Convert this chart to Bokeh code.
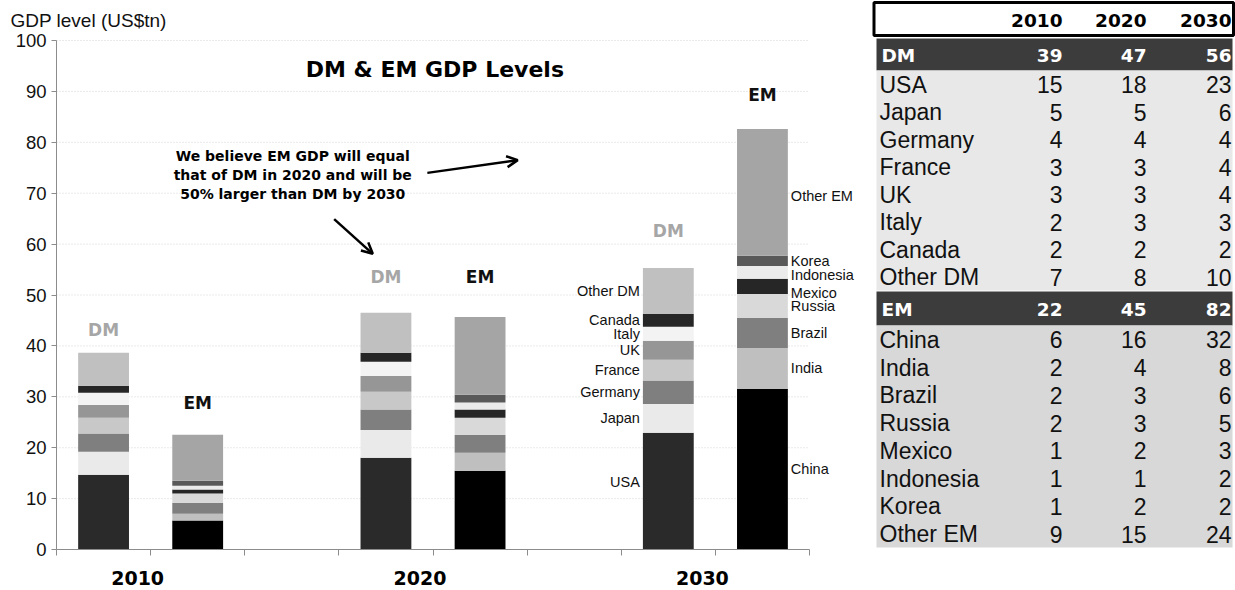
from bokeh.plotting import figure
from bokeh.models import Range1d, FixedTicker, Label, ColumnDataSource, Arrow, OpenHead
from bokeh.layouts import row
from bokeh.embed import file_html
from bokeh.resources import INLINE
from bokeh.core.properties import value

# ---------------- data ----------------
years = ["2010", "2020", "2030"]

dm_countries = ["USA", "Japan", "Germany", "France", "UK", "Italy", "Canada", "Other DM"]
em_countries = ["China", "India", "Brazil", "Russia", "Mexico", "Indonesia", "Korea", "Other EM"]

# bar segment sizes (US$tn), 2010 / 2020 / 2030
dm_usa = [14.7, 18.05, 22.95]
dm_japan = [4.5, 5.45, 5.65]
dm_germany = [3.6, 4.0, 4.6]
dm_france = [3.1, 3.5, 4.1]
dm_uk = [2.5, 3.1, 3.7]
dm_italy = [2.4, 2.8, 2.75]
dm_canada = [1.4, 1.75, 2.55]
dm_other = [6.45, 7.85, 9.0]

em_china = [5.7, 15.5, 31.6]
em_india = [1.35, 3.5, 8.0]
em_brazil = [2.15, 3.5, 5.9]
em_russia = [1.8, 3.4, 4.7]
em_mexico = [0.8, 1.6, 3.0]
em_indonesia = [0.75, 1.4, 2.5]
em_korea = [0.95, 1.5, 2.0]
em_other = [9.05, 15.3, 24.9]

# table values (rounded, as printed)
table_dm_total = [39, 47, 56]
table_dm_values = [[15, 18, 23], [5, 5, 6], [4, 4, 4], [3, 3, 4],
                   [3, 3, 4], [2, 3, 3], [2, 2, 2], [7, 8, 10]]
table_em_total = [22, 45, 82]
table_em_values = [[6, 16, 32], [2, 4, 8], [2, 3, 6], [2, 3, 5],
                   [1, 2, 3], [1, 1, 2], [1, 2, 2], [9, 15, 24]]

y_ticks = list(range(0, 101, 10))

# ---------------- styles ----------------
dm_colors = ["#2a2a2a", "#eaeaea", "#7f7f7f", "#c8c8c8", "#969696", "#f3f3f3", "#262626", "#c0c0c0"]
em_colors = ["#000000", "#bfbfbf", "#7f7f7f", "#d9d9d9", "#262626", "#ebebeb", "#595959", "#a5a5a5"]
SANS = "Liberation Sans"
HEAVY = "DejaVu Sans"

CHART_W, CHART_H = 862, 590
TABLE_W = 373
BAR_W = 0.54
N_SLOTS = 8

dm_vals = [dm_usa, dm_japan, dm_germany, dm_france, dm_uk, dm_italy, dm_canada, dm_other]
em_vals = [em_china, em_india, em_brazil, em_russia, em_mexico, em_indonesia, em_korea, em_other]

# slot layout: DM, EM, gap per decade
x_dm = [3 * i + 0.5 for i in range(len(years))]
x_em = [3 * i + 1.5 for i in range(len(years))]
year_x = [3 * i + 1 for i in range(len(years))]

# the frame fills the whole canvas; axes are pinned at x=0 / y=0 inside it
p = figure(width=CHART_W, height=CHART_H, x_range=Range1d(-0.595, 8.563), y_range=Range1d(-8.04, 107.86),
           output_backend="svg", toolbar_location=None,
           min_border_left=0, min_border_right=0, min_border_top=0, min_border_bottom=0)
p.outline_line_color = None
p.background_fill_color = "white"

# axes
p.xaxis.fixed_location = 0
p.xaxis.ticker = FixedTicker(ticks=list(range(N_SLOTS + 1)))
p.xaxis.major_label_overrides = {i: "" for i in range(N_SLOTS + 1)}
p.xaxis.major_label_text_font_size = "1px"
p.xaxis.axis_line_color = "#8c8c8c"
p.xaxis.major_tick_line_color = "#8c8c8c"
p.xaxis.major_tick_out = 6
p.xaxis.major_tick_in = 0
p.xaxis.minor_tick_line_color = None
p.xaxis.bounds = (0, N_SLOTS)

p.yaxis.fixed_location = 0
p.yaxis.ticker = FixedTicker(ticks=y_ticks)
p.yaxis.bounds = (0, 100)
p.yaxis.axis_line_color = "#8c8c8c"
p.yaxis.major_tick_line_color = "#8c8c8c"
p.yaxis.major_tick_out = 5
p.yaxis.major_tick_in = 0
p.yaxis.minor_tick_line_color = None
p.yaxis.major_label_text_font = SANS
p.yaxis.major_label_text_font_size = "18.5px"
p.yaxis.major_label_text_color = "#111111"
p.yaxis.major_label_standoff = 5

p.xgrid.visible = False
p.ygrid.visible = False
grid_ticks = y_ticks[1:]
p.segment(x0=[0] * len(grid_ticks), x1=[N_SLOTS] * len(grid_ticks), y0=grid_ticks, y1=grid_ticks,
          line_color="#d4d4d4", line_dash="1 2", line_width=1)

# axis title (top-left)
p.add_layout(Label(x=-0.489, y=103.9, text="GDP level (US$tn)", text_font=SANS, text_font_size="19px",
                   text_color="#111111", text_align="left", text_baseline="middle"))

# bars
src_dm = ColumnDataSource(dict(x=x_dm, **{c: v for c, v in zip(dm_countries, dm_vals)}))
src_em = ColumnDataSource(dict(x=x_em, **{c: v for c, v in zip(em_countries, em_vals)}))
p.vbar_stack(dm_countries, x="x", width=BAR_W, color=dm_colors, line_color=None, source=src_dm)
p.vbar_stack(em_countries, x="x", width=BAR_W, color=em_colors, line_color=None, source=src_em)

# DM / EM labels above bars
dm_label_y = [43.2, 53.6, 62.6]
em_label_y = [28.8, 53.6, 89.3]
for i in range(len(years)):
    p.add_layout(Label(x=x_dm[i], y=dm_label_y[i], text="DM", text_font=HEAVY, text_font_style="bold",
                       text_font_size="17px", text_color="#a6a6a6", text_align="center",
                       text_baseline="middle"))
    p.add_layout(Label(x=x_em[i], y=em_label_y[i], text="EM", text_font=HEAVY, text_font_style="bold",
                       text_font_size="17px", text_color="#111111", text_align="center",
                       text_baseline="middle"))

# year labels below axis
for yx, yr in zip(year_x, years):
    p.add_layout(Label(x=yx, y=0, x_offset=-13, y_offset=-28.5, text=yr, text_font=HEAVY,
                       text_font_style="bold", text_font_size="19px", text_color="#000000",
                       text_align="center", text_baseline="middle"))

# segment labels for 2030 bars
label_nudge = {"USA": 1.8, "Mexico": -1.3, "Indonesia": -0.6, "Other EM": -0.6}
cum = 0.0
for c, v in zip(dm_countries, dm_vals):
    mid = cum + v[2] / 2
    cum += v[2]
    p.add_layout(Label(x=x_dm[2] - BAR_W / 2, x_offset=-3, y=mid + label_nudge.get(c, 0), text=c,
                       text_font=SANS, text_font_size="14.5px", text_color="#111111",
                       text_align="right", text_baseline="middle"))
cum = 0.0
for c, v in zip(em_countries, em_vals):
    mid = cum + v[2] / 2
    cum += v[2]
    p.add_layout(Label(x=x_em[2] + BAR_W / 2, x_offset=3, y=mid + label_nudge.get(c, 0), text=c,
                       text_font=SANS, text_font_size="14.5px", text_color="#111111",
                       text_align="left", text_baseline="middle"))

# chart title
p.add_layout(Label(x=4.02, y=94.4, text="DM & EM GDP Levels", text_font=HEAVY, text_font_style="bold",
                   text_font_size="22px", text_color="#000000", text_align="center",
                   text_baseline="middle"))

# comment text
note_lines = ["We believe EM GDP will equal", "that of DM in 2020 and will be", "50% larger than DM by 2030"]
note_y = [77.3, 73.6, 69.9]
for line, ny in zip(note_lines, note_y):
    p.add_layout(Label(x=2.51, y=ny, text=line, text_font=HEAVY, text_font_style="bold",
                       text_font_size="14px", text_color="#000000", text_align="center",
                       text_baseline="middle"))

p.add_layout(Arrow(end=OpenHead(size=11, line_width=2.5, line_color="black"),
                   x_start=2.95, y_start=64.9, x_end=3.36, y_end=58.1,
                   line_width=2.5, line_color="black"))
p.add_layout(Arrow(end=OpenHead(size=11, line_width=2.5, line_color="black"),
                   x_start=3.94, y_start=74.0, x_end=4.90, y_end=76.5,
                   line_width=2.5, line_color="black"))

# ---------------- table ----------------
t = figure(width=TABLE_W, height=CHART_H, x_range=Range1d(0, TABLE_W), y_range=Range1d(CHART_H, 0),
           output_backend="svg", toolbar_location=None, x_axis_location=None, y_axis_location=None,
           min_border_left=0, min_border_right=0, min_border_top=0, min_border_bottom=0)
t.grid.visible = False
t.outline_line_color = None

T_LEFT, T_RIGHT = 14, 370
col_right = [200, 284, 369]
HDR_TOP, HDR_BOT = 2, 35
DM_TOP, DM_BOT = 38, 70
DM_ROW_H = 27.5
EM_TOP, EM_BOT = 291, 325
EM_ROW_H = 27.75

t.quad(left=[T_LEFT - 2.5], right=[T_RIGHT + 1], top=[HDR_TOP], bottom=[HDR_BOT],
       fill_color="white", line_color="black", line_width=3)
t.quad(left=[T_LEFT, T_LEFT], right=[T_RIGHT, T_RIGHT], top=[DM_TOP, EM_TOP], bottom=[DM_BOT, EM_BOT],
       fill_color="#3c3c3c", line_color=None)
t.quad(left=[T_LEFT], right=[T_RIGHT], top=[DM_BOT], bottom=[DM_BOT + DM_ROW_H * len(dm_countries)],
       fill_color="#e8e8e8", line_color=None)
t.quad(left=[T_LEFT], right=[T_RIGHT], top=[EM_BOT], bottom=[EM_BOT + EM_ROW_H * len(em_countries)],
       fill_color="#d8d8d8", line_color=None)

hdr_y = (HDR_TOP + HDR_BOT) / 2 + 1.5
t.text(x=col_right, y=[hdr_y] * 3, text=years, text_font=value(HEAVY), text_font_style="bold",
       text_font_size="18.5px", text_color="#000000", text_align="right", text_baseline="middle")


def block(label, totals, names, vals, top, bot, row_h):
    cy = (top + bot) / 2 + 0.5
    t.text(x=[T_LEFT + 5], y=[cy], text=[label], text_font=value(HEAVY), text_font_style="bold",
           text_font_size="18.5px", text_color="white", text_align="left", text_baseline="middle")
    t.text(x=col_right, y=[cy] * 3, text=[str(v) for v in totals], text_font=value(HEAVY),
           text_font_style="bold", text_font_size="18.5px", text_color="white",
           text_align="right", text_baseline="middle")
    ys = [bot + row_h * (i + 0.5) + 0.5 for i in range(len(names))]
    t.text(x=[T_LEFT + 3] * len(names), y=ys, text=names, text_font=value(SANS),
           text_font_size="23px", text_color="#111111", text_align="left", text_baseline="middle")
    for j in range(3):
        t.text(x=[col_right[j]] * len(names), y=ys, text=[str(r[j]) for r in vals],
               text_font=value(SANS), text_font_size="23px", text_color="#111111",
               text_align="right", text_baseline="middle")


block("DM", table_dm_total, dm_countries, table_dm_values, DM_TOP, DM_BOT, DM_ROW_H)
block("EM", table_em_total, em_countries, table_em_values, EM_TOP, EM_BOT, EM_ROW_H)

layout = row(p, t)
open("out.html", "w").write(file_html(layout, INLINE))
